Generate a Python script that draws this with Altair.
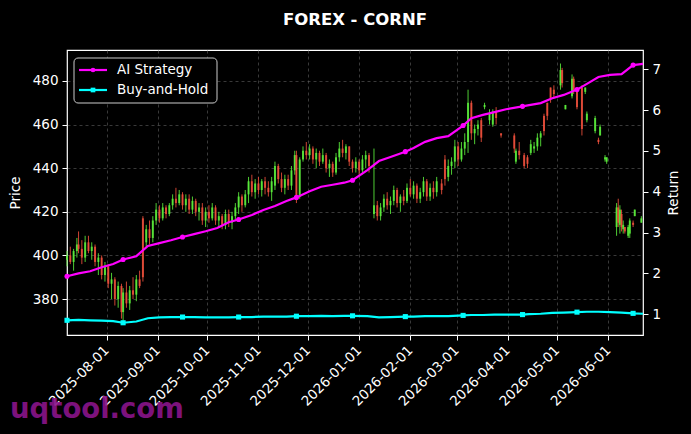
import altair as alt
import pandas as pd
import numpy as np

BASE = pd.Timestamp("2025-07-08")

# ---- candlestick data (day offset from 2025-07-08, OHLC) ----
candle_day = [0, 2, 4, 6, 7, 9, 11, 13, 15, 17, 19, 21, 23,
              25, 27, 29, 31, 33, 34, 36, 38, 40, 42, 44,
              46, 48, 50, 52, 54, 56, 58, 60, 62, 64, 66, 68, 70, 72, 74, 76, 78, 80, 82, 84, 86, 88, 90, 92, 94, 96, 98, 100,
              102, 104, 106, 108, 110, 112, 114, 116, 118, 120, 122, 124, 126, 128, 130, 132, 134, 136, 138, 139, 141, 143, 145, 147, 149, 151, 153, 155, 157, 159, 161, 163, 165, 167, 169, 171, 173, 175, 177, 179, 181, 183, 186,
              188, 190, 192, 194, 196, 198, 200, 202, 204, 206, 208, 210, 212, 214, 216, 218, 220, 222, 224,
              227, 229, 231, 233, 235, 237, 239, 241, 243, 245, 247, 249, 251, 253, 256, 258, 260, 263,
              271, 272, 274, 277, 279, 281, 283, 285, 287, 289, 291, 293, 295, 299, 300, 302, 306, 307, 309, 312, 314, 315, 320, 322, 323, 326, 327,
              333, 334, 335, 336, 337, 338, 340, 341, 343, 344, 348]
candle_open = [398, 400, 397, 402, 405, 403, 399, 406, 402, 404, 397, 399, 391,
               395, 387, 389, 380, 386, 374, 383, 378, 384, 382, 389,
               417, 406, 412, 408, 416, 421, 417, 422, 419, 423, 426, 424, 428, 423, 426, 421, 425, 420, 422, 416, 420, 417, 422, 416, 418, 414, 419, 415,
               418, 422, 427, 423, 428, 434, 429, 433, 430, 434, 431, 429, 432, 441, 435, 431, 435, 432, 439, 446, 427, 444, 448, 446, 449, 444, 447, 443, 446, 440, 442, 438, 445, 449, 447, 450, 443, 440, 443, 439, 444, 446, 419,
               423, 418, 422, 426, 423, 425, 430, 424, 427, 425, 431, 428, 432, 426, 429, 434, 427, 431, 429,
               433, 444, 436, 441, 443, 450, 444, 449, 452, 470, 456, 458, 462, 468, 462, 460, 466, 456,
               455, 443, 448, 446, 445, 447, 449, 450, 454, 464, 470, 477, 476, 478, 485, 467, 473, 481, 475, 477, 475, 462, 457, 453, 455, 444, 443,
               413, 422, 414, 419, 412, 413, 409, 410, 415, 418, 415]
candle_high = [402, 404, 403, 408, 411, 407, 409, 409, 406, 405, 401, 400, 397,
               396, 392, 390, 388, 387, 385, 388, 386, 390, 391, 393,
               418, 414, 416, 418, 424, 423, 424, 423, 424, 428, 431, 430, 429, 428, 428, 427, 426, 424, 424, 422, 423, 424, 423, 420, 419, 421, 421, 420,
               424, 429, 428, 430, 436, 437, 435, 436, 435, 436, 434, 436, 443, 442, 438, 437, 437, 441, 448, 448, 445, 450, 452, 451, 450, 449, 448, 449, 447, 444, 443, 447, 452, 453, 451, 450, 444, 445, 444, 446, 448, 447, 449,
               425, 424, 428, 429, 427, 432, 431, 428, 430, 433, 435, 434, 433, 431, 436, 435, 433, 434, 436,
               435, 446, 444, 445, 453, 452, 452, 456, 476, 471, 460, 462, 463, 470, 467, 467, 468, 456,
               456, 449, 452, 447, 446, 453, 452, 456, 457, 465, 470, 477, 478, 488, 486, 469, 483, 482, 475, 478, 477, 466, 464, 454, 460, 446, 445,
               424, 426, 423, 421, 416, 413, 414, 417, 416, 421, 418]
candle_low = [395, 396, 393, 399, 401, 396, 397, 401, 398, 395, 391, 389, 388,
              385, 380, 377, 376, 371, 370, 376, 375, 380, 379, 385,
              388, 404, 405, 406, 414, 415, 416, 417, 418, 421, 422, 423, 421, 420, 419, 419, 418, 416, 414, 413, 415, 416, 414, 413, 412, 412, 413, 412,
              416, 419, 420, 422, 424, 427, 426, 428, 427, 428, 427, 425, 430, 433, 429, 428, 430, 430, 437, 424, 426, 443, 444, 444, 442, 440, 441, 442, 438, 436, 436, 437, 443, 445, 444, 441, 438, 438, 437, 438, 440, 438, 417,
              416, 416, 420, 421, 419, 423, 422, 420, 423, 424, 427, 426, 424, 424, 427, 425, 425, 426, 427,
              428, 432, 434, 437, 440, 441, 443, 446, 447, 453, 451, 455, 452, 467, 460, 459, 460, 454,
              447, 442, 444, 440, 440, 446, 447, 448, 450, 455, 462, 470, 472, 476, 477, 467, 472, 474, 467, 455, 474, 461, 456, 451, 455, 443, 442,
              409, 413, 410, 411, 410, 410, 408, 408, 413, 418, 415]
candle_close = [400, 397, 402, 405, 403, 399, 406, 402, 404, 397, 399, 391, 395,
                387, 389, 380, 386, 374, 383, 378, 384, 382, 389, 386,
                390, 412, 408, 416, 421, 417, 422, 419, 423, 426, 424, 428, 423, 426, 421, 425, 420, 422, 416, 420, 417, 422, 416, 418, 414, 419, 415, 418,
                422, 427, 423, 428, 434, 429, 433, 430, 434, 431, 429, 434, 441, 435, 431, 435, 432, 439, 446, 427, 444, 448, 446, 449, 444, 447, 443, 446, 440, 442, 438, 445, 449, 447, 450, 443, 440, 443, 439, 444, 446, 441, 423,
                418, 422, 426, 423, 425, 430, 424, 427, 425, 431, 428, 432, 426, 429, 434, 427, 431, 429, 434,
                430, 435, 441, 443, 450, 444, 449, 452, 470, 456, 458, 460, 454, 469, 465, 466, 463, 455,
                449, 448, 446, 441, 442, 451, 450, 454, 456, 457, 464, 472, 474, 485, 479, 469, 481, 476, 468, 458, 477, 465, 463, 452, 459, 445, 445,
                422, 415, 421, 413, 414, 411, 413, 416, 414, 421, 417]

# ---- strategy return lines (right axis) ----
line_day = [0, 7, 14, 21, 28, 34, 42, 49, 56, 63, 70, 77, 84, 91, 98, 104, 112, 119, 126, 133,
            139, 147, 154, 161, 168, 173, 182, 189, 196, 205, 210, 217, 224, 231, 240, 245, 252,
            259, 266, 276, 280, 287, 294, 301, 309, 315, 322, 329, 336, 343, 349]
ai_return = [1.93, 2.00, 2.05, 2.15, 2.23, 2.34, 2.42, 2.67, 2.74, 2.81, 2.89, 2.96, 3.03, 3.11, 3.25, 3.32, 3.43, 3.55, 3.65, 3.77,
             3.86, 4.01, 4.12, 4.17, 4.22, 4.28, 4.53, 4.75, 4.85, 4.98, 5.07, 5.22, 5.31, 5.36, 5.62, 5.80, 5.88,
             5.95, 6.02, 6.09, 6.12, 6.17, 6.29, 6.37, 6.50, 6.64, 6.81, 6.86, 6.88, 7.10, 7.13]
bh_return = [0.85, 0.86, 0.85, 0.84, 0.83, 0.79, 0.82, 0.90, 0.92, 0.93, 0.93, 0.93, 0.92, 0.92, 0.92, 0.93, 0.93, 0.94, 0.94, 0.94,
             0.95, 0.95, 0.96, 0.95, 0.96, 0.96, 0.95, 0.92, 0.93, 0.94, 0.94, 0.95, 0.95, 0.95, 0.97, 0.98, 0.98,
             0.99, 0.99, 0.99, 1.00, 1.01, 1.03, 1.04, 1.05, 1.06, 1.06, 1.05, 1.04, 1.02, 1.01]
marker_day = [0, 34, 70, 104, 139, 173, 205, 240, 276, 309, 343]

series_names = ["AI Strategy", "Buy-and-Hold"]
series_colors = ["#ff00ff", "#00ffff"]
series_shapes = ["circle", "square"]

price_ticks = [380, 400, 420, 440, 460, 480]
return_ticks = [1, 2, 3, 4, 5, 6, 7]

assert len(candle_day) == len(candle_open) == len(candle_high) == len(candle_low) == len(candle_close)
assert len(line_day) == len(ai_return) == len(bh_return)

FONT = "DejaVu Sans"
GREEN = "#5cf03c"
RED = "#f0503c"

cdf = pd.DataFrame({"day": candle_day, "open": candle_open, "high": candle_high,
                    "low": candle_low, "close": candle_close})
cdf["date"] = BASE + pd.to_timedelta(cdf["day"], unit="D")
cdf["dir"] = np.where(cdf["close"] >= cdf["open"], "up", "down")

ldf = pd.concat([
    pd.DataFrame({"day": line_day, "value": ai_return, "series": series_names[0]}),
    pd.DataFrame({"day": line_day, "value": bh_return, "series": series_names[1]}),
])
ldf["date"] = BASE + pd.to_timedelta(ldf["day"], unit="D")
ldf["marker"] = ldf["day"].isin(marker_day)

x_enc = alt.X("date:T",
              scale=alt.Scale(domain=[alt.DateTime(year=2025, month=7, date=8),
                                      alt.DateTime(year=2026, month=6, date=22)], nice=False),
              axis=alt.Axis(title=None, format="%Y-%m-%d", labelAngle=-45, labelAlign="right",
                            labelBaseline="top", tickCount=alt.TimeIntervalStep(interval="month", step=1),
                            grid=True, labelPadding=3, labelOffset=-5, labelOverlap=False))

price_scale = alt.Scale(domain=[363.5, 494.2], nice=False, zero=False)
dir_color = alt.Color("dir:N", scale=alt.Scale(domain=["up", "down"], range=[GREEN, RED]), legend=None)

wicks = alt.Chart(cdf).mark_rule(strokeWidth=1, opacity=0.85).encode(
    x=x_enc,
    y=alt.Y("low:Q", scale=price_scale,
            axis=alt.Axis(title="Price", values=price_ticks, grid=True, titlePadding=10)),
    y2="high:Q",
    color=dir_color,
)
bodies = alt.Chart(cdf).mark_rule(strokeWidth=2, opacity=0.85).encode(
    x=x_enc,
    y=alt.Y("open:Q", scale=price_scale),
    y2="close:Q",
    color=dir_color,
)
candles = alt.layer(wicks, bodies)

ret_scale = alt.Scale(domain=[0.49, 7.47], nice=False, zero=False)

ret_parts = []
for i, (name, col, shp) in enumerate(zip(series_names, series_colors, series_shapes)):
    y_enc = alt.Y("value:Q", scale=ret_scale,
                  axis=alt.Axis(title="Return", orient="right", values=return_ticks, grid=False,
                                titleAngle=270, titleX=30, titleY=142.5, titleAlign="center",
                                titleBaseline="middle"))
    ret_parts.append(alt.Chart(ldf).transform_filter(alt.datum.series == name).mark_line(
        color=col, strokeWidth=2.2).encode(x=x_enc, y=y_enc))
    ret_parts.append(alt.Chart(ldf).transform_filter(alt.datum.series == name).transform_filter(
        "datum.marker").mark_point(color=col, filled=True, shape=shp, size=26, opacity=1).encode(
        x=x_enc, y=y_enc))
ret_layer = alt.layer(*ret_parts)

# ---- manual legend (top-left box) ----
legend_df = pd.DataFrame({"k": [0]})
legend_parts = [
    alt.Chart(legend_df).mark_rect(fill="black", stroke="#cccccc", strokeWidth=1, cornerRadius=4).encode(
        x=alt.value(7), x2=alt.value(150), y=alt.value(8), y2=alt.value(53))
]
for i, (name, col, shp) in enumerate(zip(series_names, series_colors, series_shapes)):
    yy = 20 + i * 20
    ent = pd.DataFrame({"label": [name]})
    legend_parts.append(alt.Chart(ent).mark_rule(color=col, strokeWidth=2.2).encode(
        x=alt.value(12), x2=alt.value(40), y=alt.value(yy)))
    legend_parts.append(alt.Chart(ent).mark_point(color=col, filled=True, shape=shp, size=22, opacity=1).encode(
        x=alt.value(26), y=alt.value(yy)))
    legend_parts.append(alt.Chart(ent).mark_text(color="white", font=FONT, fontSize=13.5, align="left",
                                                baseline="middle").encode(
        x=alt.value(50), y=alt.value(yy), text="label:N"))
legend = alt.layer(*legend_parts)

watermark = alt.Chart(pd.DataFrame({"w": ["uqtool.com"]})).mark_text(
    color="#8a148a", font=FONT, fontSize=27.5, fontWeight="bold", align="left",
    baseline="alphabetic", opacity=0.9).encode(
    x=alt.value(-57), y=alt.value(368), text="w:N")

chart = alt.layer(candles, ret_layer, legend, watermark).resolve_scale(
    y="independent"
).properties(
    width=576, height=285,
    padding={"left": 67, "top": 50, "right": 48, "bottom": 99},
    autosize=alt.AutoSizeParams(type="none"),
    title=alt.Title("FOREX - CORNF", color="white", font=FONT, fontSize=16.5, fontWeight="bold",
                    anchor="middle", offset=22),
).configure(
    background="black",
).configure_view(
    stroke="white", strokeWidth=1.2,
).configure_axis(
    labelColor="white", titleColor="white", tickColor="white", tickSize=5, tickWidth=1,
    domain=False, labelFont=FONT, titleFont=FONT, labelFontSize=13.5, titleFontSize=13.5,
    titleFontWeight="normal", gridColor="#606060", gridDash=[3, 3], gridWidth=0.6, labelPadding=4,
)

chart.save("out.html", embed_options={"renderer": "svg", "actions": False})
